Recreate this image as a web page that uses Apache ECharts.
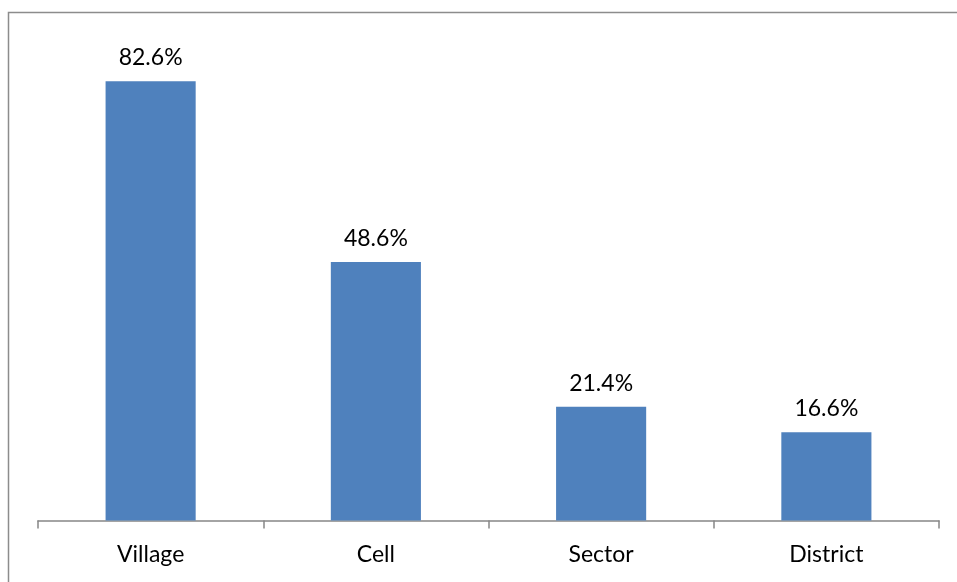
<!DOCTYPE html>
<html>
<head>
<meta charset="utf-8">
<script src="https://cdn.jsdelivr.net/npm/echarts@6/dist/echarts.min.js"></script>
<style>
  html, body { margin: 0; padding: 0; background: #ffffff; }
  #chart { width: 957px; height: 582px; }
</style>
</head>
<body>
<div id="chart"></div>
<script>
// Administrative levels and share of respondents (%)
const categories = ['Village', 'Cell', 'Sector', 'District'];
const shares = [82.6, 48.6, 21.4, 16.6];

const chart = echarts.init(document.getElementById('chart'), null, { renderer: 'canvas' });

chart.setOption({
  backgroundColor: '#ffffff',
  animation: false,
  textStyle: { fontFamily: 'Lato, "Open Sans", sans-serif' },
  graphic: [{
    type: 'rect',
    shape: { x: 8.5, y: 12.5, width: 1200, height: 1200 },
    style: { fill: 'none', stroke: '#8c8c8c', lineWidth: 1.5 },
    silent: true
  }],
  grid: { left: 38, right: 18, top: 42, bottom: 61.5 },
  xAxis: {
    type: 'category',
    data: categories,
    axisLine: { lineStyle: { color: '#868686', width: 1.5 } },
    axisTick: { show: true, length: 8, lineStyle: { color: '#868686', width: 1.5 } },
    axisLabel: { color: '#000000', fontSize: 23, margin: 23, fontFamily: 'Lato, sans-serif' }
  },
  yAxis: {
    type: 'value',
    min: 0,
    max: 90,
    show: false,
    splitLine: { show: false }
  },
  series: [{
    type: 'bar',
    data: shares,
    barWidth: '40%',
    itemStyle: { color: '#4F81BD' },
    label: {
      show: true,
      position: 'top',
      distance: 12,
      color: '#000000',
      fontSize: 23,
      fontFamily: 'Lato, sans-serif',
      formatter: p => p.value.toFixed(1) + '%'
    }
  }]
});
</script>
</body>
</html>
